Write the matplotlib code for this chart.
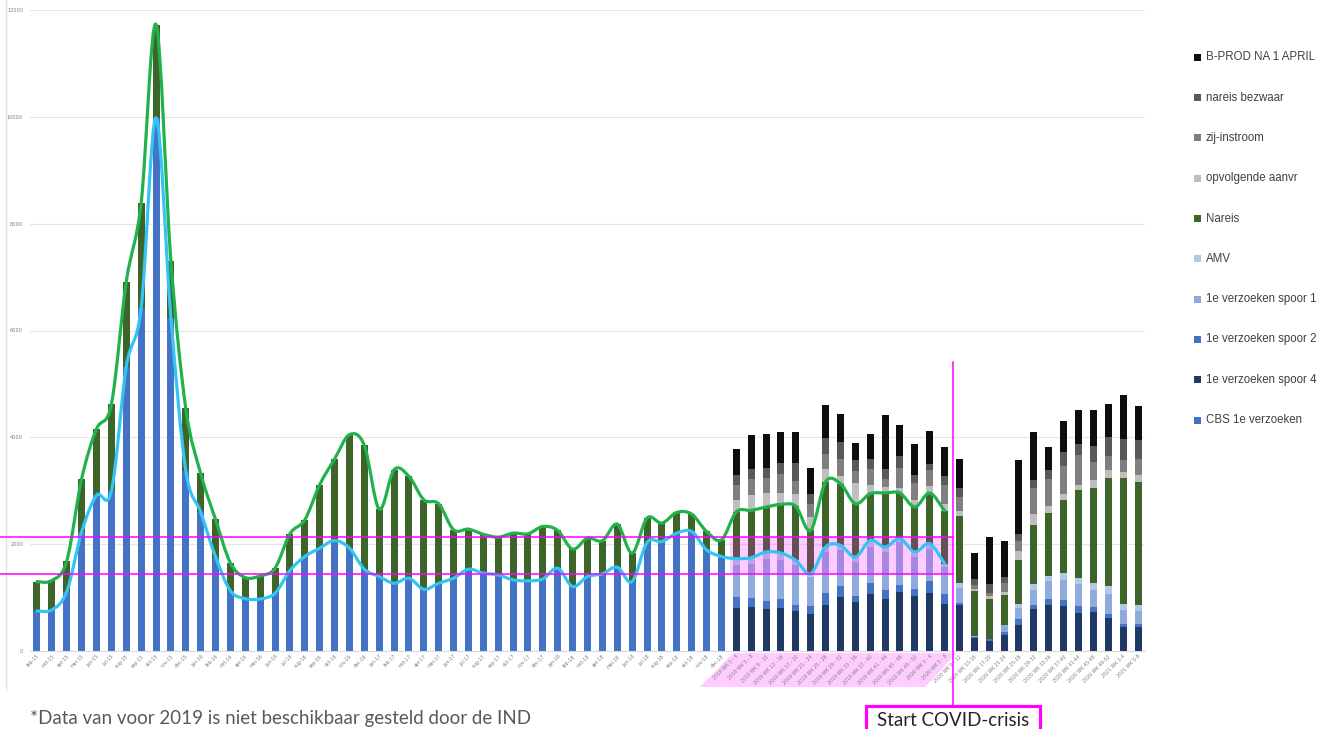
import numpy as np
import matplotlib
matplotlib.use("Agg")
import matplotlib.pyplot as plt
from matplotlib.path import Path
from matplotlib.patches import PathPatch, Rectangle, Polygon
from matplotlib.lines import Line2D
import matplotlib.transforms as mtransforms

# ---------------- data ----------------
month_labels = [
    "feb-15", "mrt-15", "apr-15", "mei-15", "jun-15", "jul-15", "aug-15", "sep-15", "okt-15", "nov-15", "dec-15",
    "jan-16", "feb-16", "mrt-16", "apr-16", "mei-16", "jun-16", "jul-16", "aug-16", "sep-16", "okt-16", "nov-16", "dec-16",
    "jan-17", "feb-17", "mrt-17", "apr-17", "mei-17", "jun-17", "jul-17", "aug-17", "sep-17", "okt-17", "nov-17", "dec-17",
    "jan-18", "feb-18", "mrt-18", "apr-18", "mei-18", "jun-18", "jul-18", "aug-18", "sep-18", "okt-18", "nov-18", "dec-18",
]
period_labels = [
    "2019 WK 1 - 4", "2019 WK 5 - 8", "2019 WK 9 - 12", "2019 WK 13 - 16", "2019 WK 17 - 20", "2019 WK 21 - 24",
    "2019 WK 25 - 28", "2019 WK 29 - 32", "2019 WK 33 - 36", "2019 WK 37 - 40", "2019 WK 41 - 44", "2019 WK 45 - 48",
    "2019 WK 49 - 52", "2020 WK 1 - 4", "2020 WK 5 - 8", "2020 WK 9 - 12", "2020 WK 13-16", "2020 WK 17-20",
    "2020 WK 21-24", "2020 WK 25-28", "2020 WK 29-32", "2020 WK 33-36", "2020 WK 37-40", "2020 WK 41-44",
    "2020 WK 45-48", "2020 WK 49-52", "2021 WK 1-4", "2021 WK 5-8",
]

# monthly series (feb-15 .. dec-18)
cbs_1e = [750, 770, 1110, 2229, 2913, 2990, 5320, 6423, 9980, 6237, 3379,
          2602, 1763, 1126, 980, 975, 1081, 1506, 1769, 1925, 2069, 1925, 1531,
          1394, 1269, 1363, 1156, 1269, 1363, 1531, 1456, 1425, 1331, 1313, 1350,
          1550, 1206, 1394, 1444, 1569, 1300, 2031, 2050, 2206, 2238, 1894, 1769]
nareis_month = [547, 550, 575, 994, 1242, 1631, 1593, 1965, 1748, 1064, 1165,
                722, 699, 521, 395, 431, 469, 688, 687, 1188, 1525, 2125, 2319,
                1262, 2125, 1906, 1675, 1487, 906, 750, 729, 706, 875, 881, 981,
                706, 700, 719, 619, 806, 531, 457, 344, 388, 325, 344, 312]

# four-week periods (2019 WK 1-4 .. 2021 WK 5-8)
spoor4 = [811, 824, 792, 811, 743, 686, 867, 1011, 917, 1061, 980, 1104, 1030, 1092, 886,
          867, 250, 187, 293, 493, 780, 855, 842, 718, 730, 618, 449, 449]
spoor2 = [200, 168, 144, 162, 125, 150, 225, 206, 112, 218, 156, 137, 137, 212, 175,
          31, 12, 31, 62, 100, 75, 112, 119, 119, 94, 81, 50, 50]
spoor1 = [593, 643, 792, 724, 736, 549, 761, 668, 636, 668, 718, 799, 593, 612, 512,
          287, 12, 12, 125, 218, 281, 337, 362, 424, 312, 374, 262, 250]
amv = [125, 112, 125, 137, 94, 62, 94, 94, 94, 125, 94, 62, 94, 94, 62,
       87, 0, 0, 0, 62, 112, 94, 137, 112, 137, 137, 112, 106]
nareis_period = [874, 886, 842, 911, 1011, 811, 1217, 1154, 998, 874, 1011, 855, 842, 948, 986,
                 1248, 842, 749, 562, 836, 1104, 1192, 1360, 1635, 1778, 2034, 2371, 2309]
opvolgend = [218, 293, 268, 218, 237, 250, 250, 137, 387, 168, 112, 100, 137, 125, 137,
             100, 40, 44, 62, 162, 206, 119, 125, 106, 144, 137, 106, 125]
zij_instroom = [281, 300, 281, 343, 237, 237, 268, 331, 218, 300, 156, 374, 312, 300, 356,
                262, 80, 69, 168, 181, 493, 518, 512, 549, 343, 262, 218, 300]
nareis_bezwaar = [187, 187, 187, 218, 337, 200, 306, 312, 206, 175, 175, 212, 144, 125, 156,
                  175, 120, 168, 112, 144, 144, 156, 268, 218, 300, 362, 406, 368]
bprod = [499, 636, 630, 580, 580, 480, 612, 530, 331, 480, 1011, 593, 580, 612, 549,
         530, 480, 874, 674, 1373, 905, 437, 580, 624, 680, 624, 811, 630]

n_line_periods = 15  # lines run through 2020 WK 5-8

# ---------------- build ----------------
n_m = len(month_labels)
n_p = len(period_labels)
labels = month_labels + period_labels
x = np.arange(n_m + n_p)
zm = [0] * n_p
zp = [0] * n_m

series = [
    ("CBS 1e verzoeken", np.array(cbs_1e + zm, float), "#4472C4"),
    ("1e verzoeken spoor 4", np.array(zp + spoor4, float), "#1F3864"),
    ("1e verzoeken spoor 2", np.array(zp + spoor2, float), "#4472C4"),
    ("1e verzoeken spoor 1", np.array(zp + spoor1, float), "#8FAADC"),
    ("AMV", np.array(zp + amv, float), "#B4C7E7"),
    ("Nareis", np.array(nareis_month + nareis_period, float), "#3E6529"),
    ("opvolgende aanvr", np.array(zp + opvolgend, float), "#BFBFBF"),
    ("zij-instroom", np.array(zp + zij_instroom, float), "#7F7F7F"),
    ("nareis bezwaar", np.array(zp + nareis_bezwaar, float), "#595959"),
    ("B-PROD NA 1 APRIL", np.array(zp + bprod, float), "#0D0D0D"),
]

W, H = 1330, 729
fig = plt.figure(figsize=(W / 100, H / 100), dpi=100)
ax = fig.add_axes([30 / W, 78 / H, 1115 / W, 641 / H])
ax.patch.set_alpha(0)

bottom = np.zeros(len(x))
for name, vals, col in series:
    ax.bar(x, vals, width=0.47, bottom=bottom, color=col, linewidth=0, zorder=2)
    bottom += vals

first_req = series[0][1] + series[1][1] + series[2][1] + series[3][1] + series[4][1]
with_nareis = first_req + series[5][1]
nl = n_m + n_line_periods


def smooth_path(xs, ys):
    verts = [(xs[0], ys[0])]
    codes = [Path.MOVETO]
    n = len(xs)
    for i in range(n - 1):
        p0 = i - 1 if i > 0 else i
        p3 = i + 2 if i + 2 < n else i + 1
        c1 = (xs[i] + (xs[i + 1] - xs[p0]) / 6, ys[i] + (ys[i + 1] - ys[p0]) / 6)
        c2 = (xs[i + 1] - (xs[p3] - xs[i]) / 6, ys[i + 1] - (ys[p3] - ys[i]) / 6)
        verts += [c1, c2, (xs[i + 1], ys[i + 1])]
        codes += [Path.CURVE4] * 3
    return Path(verts, codes)


ax.add_patch(PathPatch(smooth_path(x[:nl], with_nareis[:nl]), fill=False,
                       edgecolor="#22B24C", lw=2.3, zorder=4, capstyle="round"))
ax.add_patch(PathPatch(smooth_path(x[:nl], first_req[:nl]), fill=False,
                       edgecolor="#33C4F4", lw=2.3, zorder=4, capstyle="round"))

ax.set_xlim(-0.47, 74.47)
ax.set_ylim(0, 12000)
ax.set_yticks(np.arange(0, 12001, 2000))
ax.set_yticklabels([str(v) for v in range(0, 12001, 2000)])
ax.yaxis.grid(True, color="#E6E6E6", lw=0.8, zorder=0)
ax.set_axisbelow(True)
for s in ["left", "right", "top"]:
    ax.spines[s].set_visible(False)
ax.spines["bottom"].set_color("#D9D9D9")
ax.spines["bottom"].set_linewidth(0.8)
ax.tick_params(axis="y", length=0, pad=5, labelsize=3.6, labelcolor="#7F7F7F")
ax.tick_params(axis="x", length=0, pad=2, labelsize=3.4, labelcolor="#7F7F7F")
ax.set_xticks(x)
ax.set_xticklabels(labels, rotation=45, ha="right", va="top", rotation_mode="anchor")

# ---------------- annotations ----------------
# pink highlight in plot
ax.add_patch(Rectangle((46.57, 1442), 61.56 - 46.57, 2135 - 1442, facecolor="#FF00FF",
                       alpha=0.2, lw=0, zorder=3))
bt = mtransforms.blended_transform_factory(fig.transFigure, ax.transData)
for yv in (2135, 1442):
    fig.add_artist(Line2D([0, 953 / W], [yv, yv], transform=bt, color="#FF00FF", lw=1.1, zorder=5))
# vertical line
fig.add_artist(Line2D([953 / W, 953 / W], [1 - 362 / H, 1 - 705 / H], transform=fig.transFigure,
                      color="#FF00FF", lw=1.1, zorder=5))
# pink parallelogram under period labels
para = [(733, 653), (957, 653), (925, 687), (700, 687)]
fig.add_artist(Polygon([(px / W, 1 - py / H) for px, py in para], closed=True,
                       transform=fig.transFigure, facecolor="#FFCCFF", lw=0, zorder=-1))
# COVID box
fig.add_artist(Rectangle((866 / W, 1 - 740 / H), (1040 - 866) / W, (740 - 706) / H,
                         transform=fig.transFigure, facecolor="white", edgecolor="#FF00FF",
                         lw=2.3, zorder=6))
fig.text(953 / W, 1 - 720 / H, "Start COVID-crisis", ha="center", va="center",
         fontsize=13.5, color="#262626", family="Lato", zorder=7)
# footnote
fig.text(30 / W, 1 - 724 / H, "*Data van voor 2019 is niet beschikbaar gesteld door de IND",
         ha="left", va="baseline", fontsize=13.5, color="#595959", family="Lato", zorder=7)
# left border
fig.add_artist(Line2D([6 / W, 6 / W], [1, 1 - 690 / H], transform=fig.transFigure,
                      color="#E3E3E3", lw=1.0))

# ---------------- legend ----------------
leg_y0, leg_dy = 57.3, 40.3
for i, (name, vals, col) in enumerate(reversed(series)):
    yc = leg_y0 + i * leg_dy
    fig.add_artist(Rectangle((1194 / W, 1 - (yc + 3.5) / H), 7 / W, 7 / H, transform=fig.transFigure,
                             facecolor=col, lw=0))
    fig.text(1206 / W, 1 - yc / H, name, ha="left", va="center", fontsize=8.3,
             color="#404040", family="Liberation Sans")

fig.savefig("out.png", dpi=100)
